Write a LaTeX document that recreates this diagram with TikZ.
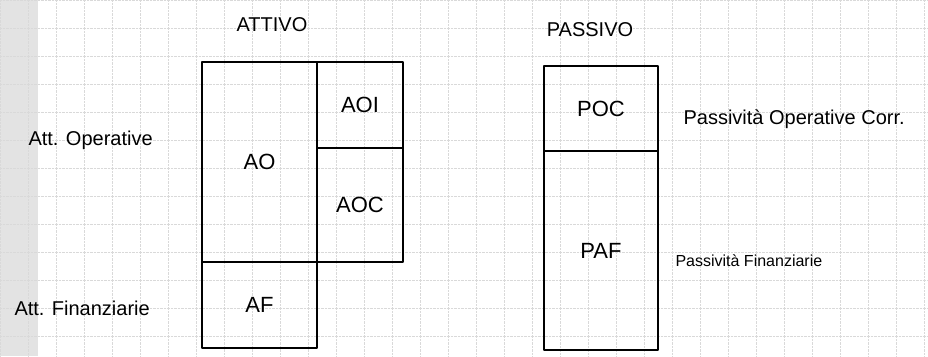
\documentclass[tikz,border=0pt]{standalone}
\usepackage{fontspec}
\setmainfont{Liberation Sans}
\usetikzlibrary{positioning}

\tikzset{
  cella/.style={draw, line width=1.4pt, inner sep=0pt, outer sep=0pt, font=\fontsize{22}{26}\selectfont},
  titolo/.style={font=\fontsize{20}{24}\selectfont},
  voce/.style={anchor=west, font=\fontsize{20}{24}\selectfont},
  quadretti/.style={gray!30, line width=0.4pt, densely dotted}
}

\begin{document}
\begin{tikzpicture}[x=1pt, y=-1pt, line join=round]

  %% carta a quadretti
  \fill[gray!22] (0,0) rectangle (38,356);
  \draw[quadretti, step=28pt] (0,0) grid (928,356);

  %% attivo
  \node[titolo] (attivo) at (272,25) {ATTIVO};
  \node[cella, minimum width=115pt, minimum height=200pt] (AO)  at (259.5,162) {AO};
  \node[cella, minimum width=86pt,  minimum height=86pt, anchor=north west] (AOI) at (AO.north east) {AOI};
  \node[cella, minimum width=86pt,  minimum height=114pt, anchor=north west] (AOC) at (AOI.south west) {AOC};
  \node[cella, minimum width=115pt, minimum height=86pt, anchor=north west] (AF)  at (AO.south west) {AF};

  \node[voce] (attop) at (25,140) {Att. Operative};
  \node[voce] (attfin) at (11,308) {Att. Finanziarie};

  %% passivo
  \node[titolo] (passivo) at (590,30) {PASSIVO};
  \node[cella, minimum width=114pt, minimum height=85pt, anchor=north west] (POC) at (544,66) {POC};
  \node[cella, minimum width=114pt, minimum height=199pt, anchor=north west] (PAF) at (POC.south west) {PAF};

  \node[voce] (pasop)  at (680,119) {Passività Operative Corr.};
  \node[voce, font=\fontsize{16}{20}\selectfont] (pasfin) at (672,261) {Passività Finanziarie};

  \pgfresetboundingbox
  \path[use as bounding box] (0,0) rectangle (928,356);
\end{tikzpicture}
\end{document}
